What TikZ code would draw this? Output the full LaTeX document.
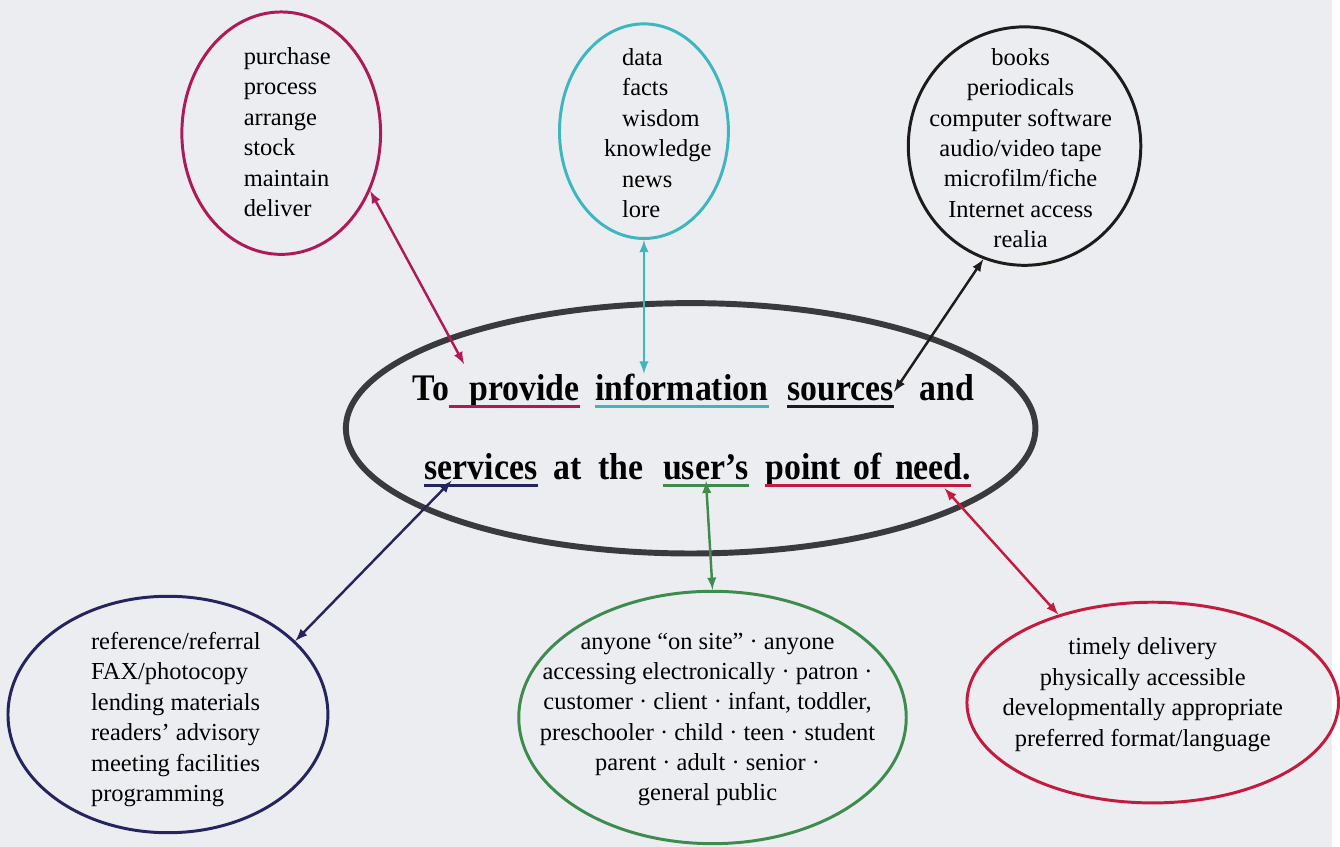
\documentclass[tikz,border=0pt]{standalone}
\usepackage{fontspec}
\setmainfont{Liberation Serif}
\newfontfamily\mottofont[FakeStretch=0.9]{Liberation Serif}
\usetikzlibrary{shapes,arrows,calc}

\definecolor{paper}{HTML}{ECEDF1}
\definecolor{cmagenta}{HTML}{AE1A58}
\definecolor{ccyan}{HTML}{3DB6C0}
\definecolor{cblack}{HTML}{1E1B1B}
\definecolor{cnavy}{HTML}{24255E}
\definecolor{cgreen}{HTML}{3E8B4E}
\definecolor{cred}{HTML}{C41A3E}
\definecolor{cring}{HTML}{3A3A3C}

\begin{document}
\begin{tikzpicture}[x=0.02cm,y=-0.02cm]
		\tikzstyle {ring} = [draw, ellipse, line width=1.7pt, inner sep=0pt]
		\tikzstyle {list} = [font=\fontsize{14}{17.4}\selectfont, inner sep=0pt]
		\tikzstyle {word} = [font=\mottofont\bfseries\fontsize{21.5}{24}\selectfont, anchor=base west, inner sep=0pt]
		\tikzstyle {link} = [latex-latex, line width=1.4pt]
		\tikzstyle {under} = [line width=1.7pt]

		\fill[paper] (0,0) rectangle (1340,852);

		\node[ring, cring, line width=3.4pt, minimum width=13.88cm, minimum height=5.04cm] (mission) at (695,431) {};

		\foreach \name/\x/\y/\txt in {To/415/403/To, provide/472/403/provide, information/599/403/information,
			sources/792/403/sources, and/925/403/and, services/427/483/services, at/557/483/at,
			the/602/483/the, users/667/483/user’s, need/770/483/point\hskip0.35em of\hskip0.35em need.}
		{
			\node[word] (\name) at (\x,\y) {\txt};
		}

		\draw[under, cmagenta] ([yshift=-0.12cm]To.base east) -- ([yshift=-0.12cm]provide.base east);
		\foreach \w/\c in {information/ccyan, sources/cblack, services/cnavy, users/cgreen, need/cred}
		{
			\draw[under, \c] ([yshift=-0.12cm]\w.base west) -- ([yshift=-0.12cm]\w.base east);
		}

		\node[ring, cmagenta, minimum width=4cm, minimum height=4.88cm] (acquire) at (283,134) {};
		\node[list, align=left] (acquiretext) at (289,133) {purchase\\process\\arrange\\stock\\maintain\\deliver};

		\node[ring, ccyan, minimum width=3.4cm, minimum height=4.32cm] (content) at (648,132) {};
		\node[list, align=left] (contenttext) at (662,134) {\hspace*{0.36cm}data\\\hspace*{0.36cm}facts\\\hspace*{0.36cm}wisdom\\knowledge\\\hspace*{0.36cm}news\\\hspace*{0.36cm}lore};

		\node[ring, cblack, minimum width=4.68cm, minimum height=4.8cm] (formats) at (1031,147) {};
		\node[list, align=center] (formatstext) at (1027,149) {books\\periodicals\\computer software\\audio/video tape\\microfilm/fiche\\Internet access\\realia};

		\node[ring, cnavy, minimum width=6.44cm, minimum height=4.76cm] (offer) at (169,719) {};
		\node[list, align=left] (offertext) at (177,724) {reference/referral\\FAX/photocopy\\lending materials\\readers’ advisory\\meeting facilities\\programming};

		\node[ring, cgreen, minimum width=7.8cm, minimum height=5.08cm] (patrons) at (717,722) {};
		\node[list, align=center] (patronstext) at (712,724) {anyone “on site” · anyone\\accessing electronically · patron ·\\customer · client · infant, toddler,\\preschooler · child · teen · student\\parent · adult · senior ·\\general public};

		\node[ring, cred, minimum width=7.48cm, minimum height=4.04cm] (delivery) at (1160,707) {};
		\node[list, align=center] (deliverytext) at (1150,699) {timely delivery\\physically accessible\\developmentally appropriate\\preferred format/language};

		\draw[link, cmagenta] (acquire.-33) -- ([shift={(-0.1cm,0.2cm)}]provide.north west);
		\draw[link, ccyan] (content.south) -- (content.south |- information.north);
		\draw[link, cblack] (formats.-110) -- (sources.east);
		\draw[link, cnavy] (offer.30) -- ($(services.south west)!0.24!(services.south east)$);
		\draw[link, cgreen] (patrons.north) -- (users.south);
		\draw[link, cred] (delivery.137) -- ($(need.south west)!0.87!(need.south east)$);
\end{tikzpicture}
\end{document}
